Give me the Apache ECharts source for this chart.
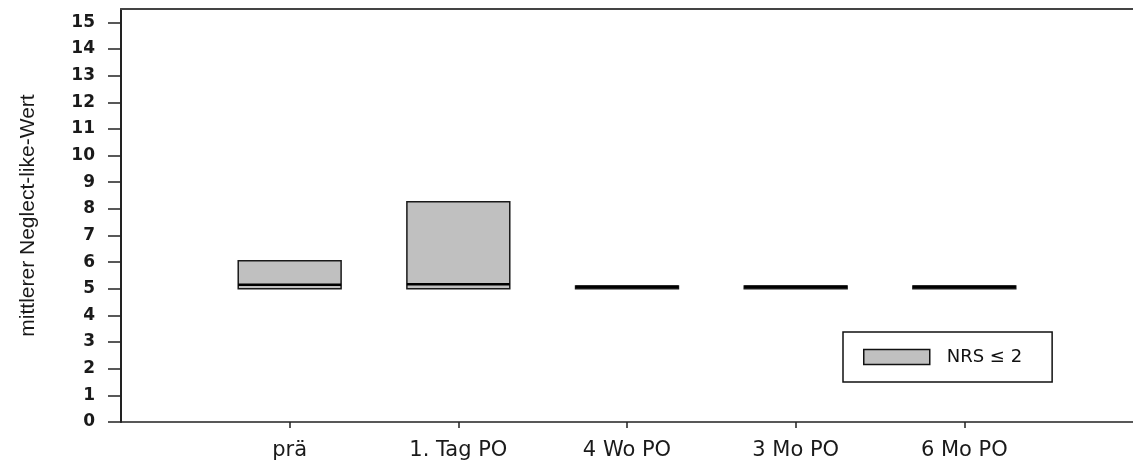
<!DOCTYPE html>
<html>
<head>
<meta charset="utf-8">
<script src="https://cdn.jsdelivr.net/npm/echarts@6/dist/echarts.min.js"></script>
<style>
html,body{margin:0;padding:0;background:#fff;}
#chart{width:1133px;height:466px;}
</style>
</head>
<body>
<div id="chart"></div>
<script>
// Data
var categories = ['prä', '1. Tag PO', '4 Wo PO', '3 Mo PO', '6 Mo PO'];
var boxLow = [5.0, 5.0, 5.0, 5.0, 5.0];
var boxMedian = [5.15, 5.17, 5.08, 5.08, 5.08];
var boxHigh = [6.05, 8.27, 5.1, 5.1, 5.1];
var yTicks = [0,1,2,3,4,5,6,7,8,9,10,11,12,13,14,15];
var xTicks = [1,2,3,4,5];
var seriesName = 'NRS \u2264 2';

var boxData = categories.map(function (c, i) {
  return [i + 1, boxLow[i], boxMedian[i], boxHigh[i]];
});

var BOX_W = 0.61;

var chart = echarts.init(document.getElementById('chart'), null, {renderer: 'canvas'});
chart.setOption({
  animation: false,
  backgroundColor: '#ffffff',
  grid: {left: 121, top: 9, width: 1016, bottom: 44, containLabel: false},
  legend: {
    left: 843, top: 332,
    orient: 'horizontal',
    borderColor: '#111', borderWidth: 1.5,
    padding: [16, 30, 16, 20],
    itemWidth: 66, itemHeight: 15,
    textStyle: {fontFamily: 'DejaVu Sans', fontSize: 18, color: '#111', padding: [0, 0, 0, 12]},
    data: [{name: seriesName, icon: 'rect', itemStyle: {color: '#c0c0c0', borderColor: '#111', borderWidth: 1.5}}]
  },
  xAxis: [{
    type: 'value', min: 0, max: 6, interval: 1,
    axisLine: {show: true, lineStyle: {color: '#222', width: 1.5}},
    axisTick: {show: true, length: 6, customValues: xTicks, lineStyle: {color: '#222', width: 1.5}},
    axisLabel: {
      customValues: xTicks, margin: 18,
      fontFamily: 'DejaVu Sans', fontSize: 21, color: '#1a1a1a',
      formatter: function (v) { return categories[Math.round(v) - 1] || ''; }
    },
    splitLine: {show: false}
  }, {
    type: 'value', min: 0, max: 6, position: 'top',
    axisLine: {show: true, lineStyle: {color: '#444', width: 2}},
    axisTick: {show: false}, axisLabel: {show: false}, splitLine: {show: false}
  }],
  yAxis: {
    type: 'value', min: 0, max: 15.5,
    name: 'mittlerer Neglect-like-Wert',
    nameLocation: 'middle', nameRotate: 90, nameGap: 82,
    nameTextStyle: {fontFamily: 'Liberation Sans', fontSize: 21, color: '#1a1a1a'},
    axisLine: {show: true, lineStyle: {color: '#222', width: 2}},
    axisTick: {show: true, length: 13, customValues: yTicks, lineStyle: {color: '#222', width: 1.5}},
    axisLabel: {customValues: yTicks, margin: 26, fontFamily: 'DejaVu Sans', fontWeight: 'bold', fontSize: 17, color: '#1a1a1a'},
    splitLine: {show: false}
  },
  series: [{
    name: seriesName,
    type: 'custom',
    xAxisIndex: 0,
    itemStyle: {color: '#c0c0c0', borderColor: '#111'},
    encode: {x: 0, y: [1, 2, 3]},
    data: boxData,
    renderItem: function (params, api) {
      var x = api.value(0), lo = api.value(1), med = api.value(2), hi = api.value(3);
      var p1 = api.coord([x - BOX_W / 2, hi]);
      var p2 = api.coord([x + BOX_W / 2, lo]);
      var pm = api.coord([x, med]);
      return {
        type: 'group',
        children: [{
          type: 'rect',
          shape: {x: p1[0], y: p1[1], width: p2[0] - p1[0], height: p2[1] - p1[1]},
          style: {fill: '#c0c0c0', stroke: '#1a1a1a', lineWidth: 1.5}
        }, {
          type: 'line',
          shape: {x1: p1[0], y1: pm[1], x2: p2[0], y2: pm[1]},
          style: {stroke: '#000', lineWidth: 2.5}
        }]
      };
    }
  }]
});
</script>
</body>
</html>
